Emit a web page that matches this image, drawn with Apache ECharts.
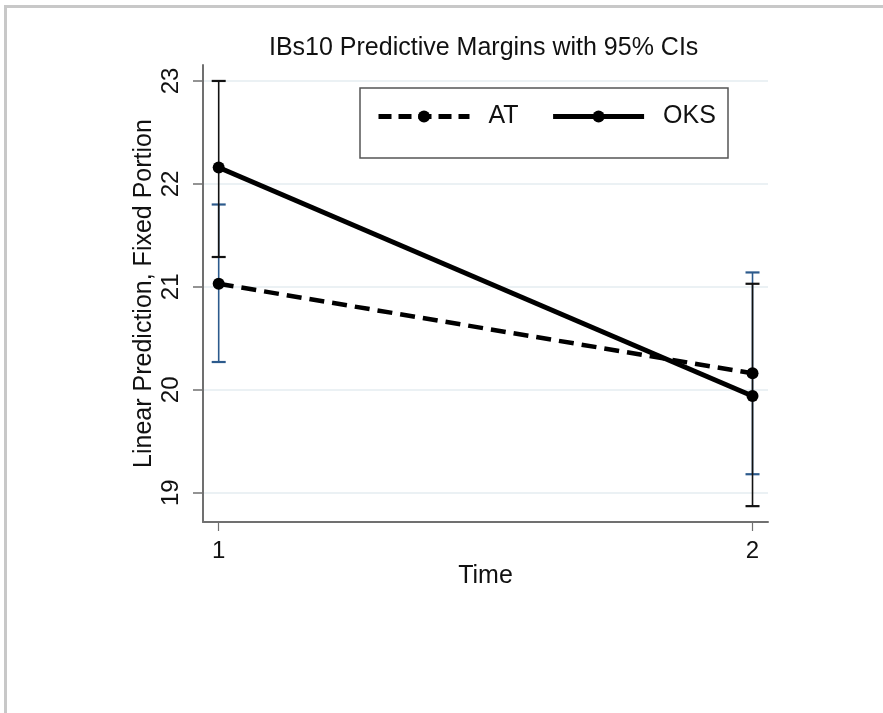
<!DOCTYPE html>
<html>
<head>
<meta charset="utf-8">
<script src="https://cdn.jsdelivr.net/npm/echarts@6/dist/echarts.min.js"></script>
<style>
  html, body { margin: 0; padding: 0; background: #fff; }
  #chart { width: 883px; height: 713px; }
</style>
</head>
<body>
<div id="chart"></div>
<script>
// data
var time = [1, 2];
var atMean = [21.03, 20.16];
var oksMean = [22.16, 19.94];
var atLow = [20.27, 19.18];
var atHigh = [21.80, 21.14];
var oksLow = [21.29, 18.87];
var oksHigh = [23.00, 21.03];
var yTicks = [19, 20, 21, 22, 23];
var xTicks = [1, 2];

var font = "'Liberation Sans', Arial, sans-serif";
var axisColor = '#707070';

// build [x, low, high] rows for the error bars
function ciRows(lo, hi) {
    var rows = [];
    time.forEach(function (t, i) {
        rows.push([t, lo[i], hi[i]]);
    });
    return rows;
}

function errBar(color) {
    return function (params, api) {
        var x = api.value(0);
        var lo = api.coord([x, api.value(1)]);
        var hi = api.coord([x, api.value(2)]);
        var w = 7;
        var cap = { stroke: color, lineWidth: 2.2 };
        return {
            type: 'group',
            children: [
                { type: 'line', shape: { x1: lo[0], y1: lo[1], x2: hi[0], y2: hi[1] }, style: { stroke: color, lineWidth: 1.6 } },
                { type: 'line', shape: { x1: lo[0] - w, y1: lo[1], x2: lo[0] + w, y2: lo[1] }, style: cap },
                { type: 'line', shape: { x1: hi[0] - w, y1: hi[1], x2: hi[0] + w, y2: hi[1] }, style: cap }
            ]
        };
    };
}

var chart = echarts.init(document.getElementById('chart'));
var option = {
    backgroundColor: '#fff',
    animation: false,
    title: {
        text: 'IBs10 Predictive Margins with 95% CIs',
        left: 264,
        top: 31,
        textStyle: { fontFamily: font, fontSize: 25, fontWeight: 'normal', color: '#111' }
    },
    graphic: [
        // frame edges of the exported image
        { type: 'rect', shape: { x: 4, y: 5, width: 3, height: 708 }, style: { fill: '#c8c8c8' } },
        { type: 'rect', shape: { x: 4, y: 5, width: 879, height: 3 }, style: { fill: '#c8c8c8' } },
        // legend box
        { type: 'rect', shape: { x: 360, y: 88, width: 368, height: 70 }, style: { fill: '#fff', stroke: '#555', lineWidth: 1.5 }, z: 5 }
    ],
    legend: {
        data: [
            { name: 'AT', lineStyle: { width: 5, type: [13, 7] } },
            { name: 'OKS', lineStyle: { width: 5 } }
        ],
        left: 371,
        top: 99,
        itemWidth: 91,
        itemHeight: 15,
        itemGap: 32,
        z: 10,
        textStyle: { fontFamily: font, fontSize: 25, color: '#111', padding: [0, 0, 0, 14] }
    },
    grid: { left: 203, right: 115, top: 65, bottom: 191 },
    xAxis: {
        type: 'value',
        min: 0.9706,
        max: 2.029,
        name: 'Time',
        nameLocation: 'middle',
        nameGap: 42,
        nameMoveOverlap: false,
        nameTextStyle: { fontFamily: font, fontSize: 25, color: '#111' },
        axisLine: { lineStyle: { color: axisColor, width: 2 } },
        axisTick: { customValues: xTicks, length: 9, lineStyle: { color: axisColor, width: 1.2 } },
        axisLabel: { customValues: xTicks, margin: 17, fontFamily: font, fontSize: 24, color: '#111' },
        splitLine: { show: false }
    },
    yAxis: {
        type: 'value',
        min: 18.716,
        max: 23.155,
        name: 'Linear Prediction, Fixed Portion',
        nameLocation: 'middle',
        nameGap: 46,
        nameMoveOverlap: false,
        nameTextStyle: { fontFamily: font, fontSize: 25, color: '#111' },
        axisLine: { show: true, lineStyle: { color: axisColor, width: 2 } },
        axisTick: { show: true, customValues: yTicks, length: 10, lineStyle: { color: axisColor, width: 1.5 } },
        axisLabel: { customValues: yTicks, rotate: 90, margin: 20, fontFamily: font, fontSize: 24, color: '#111' },
        splitLine: { show: true, lineStyle: { color: '#e4edf0', width: 1.5 } }
    },
    series: [
        {
            name: 'AT CI',
            type: 'custom',
            renderItem: errBar('#2c5a8c'),
            encode: { x: 0, y: [1, 2] },
            data: ciRows(atLow, atHigh),
            z: 2
        },
        {
            name: 'OKS CI',
            type: 'custom',
            renderItem: errBar('#111'),
            encode: { x: 0, y: [1, 2] },
            data: ciRows(oksLow, oksHigh),
            z: 3
        },
        {
            name: 'AT',
            type: 'line',
            data: time.map(function (t, i) { return [t, atMean[i]]; }),
            symbol: 'circle',
            symbolSize: 12,
            itemStyle: { color: '#000' },
            lineStyle: { color: '#000', width: 4.5, type: [15, 8] },
            z: 4
        },
        {
            name: 'OKS',
            type: 'line',
            data: time.map(function (t, i) { return [t, oksMean[i]]; }),
            symbol: 'circle',
            symbolSize: 12,
            itemStyle: { color: '#000' },
            lineStyle: { color: '#000', width: 5 },
            z: 4
        }
    ]
};
chart.setOption(option);
</script>
</body>
</html>
